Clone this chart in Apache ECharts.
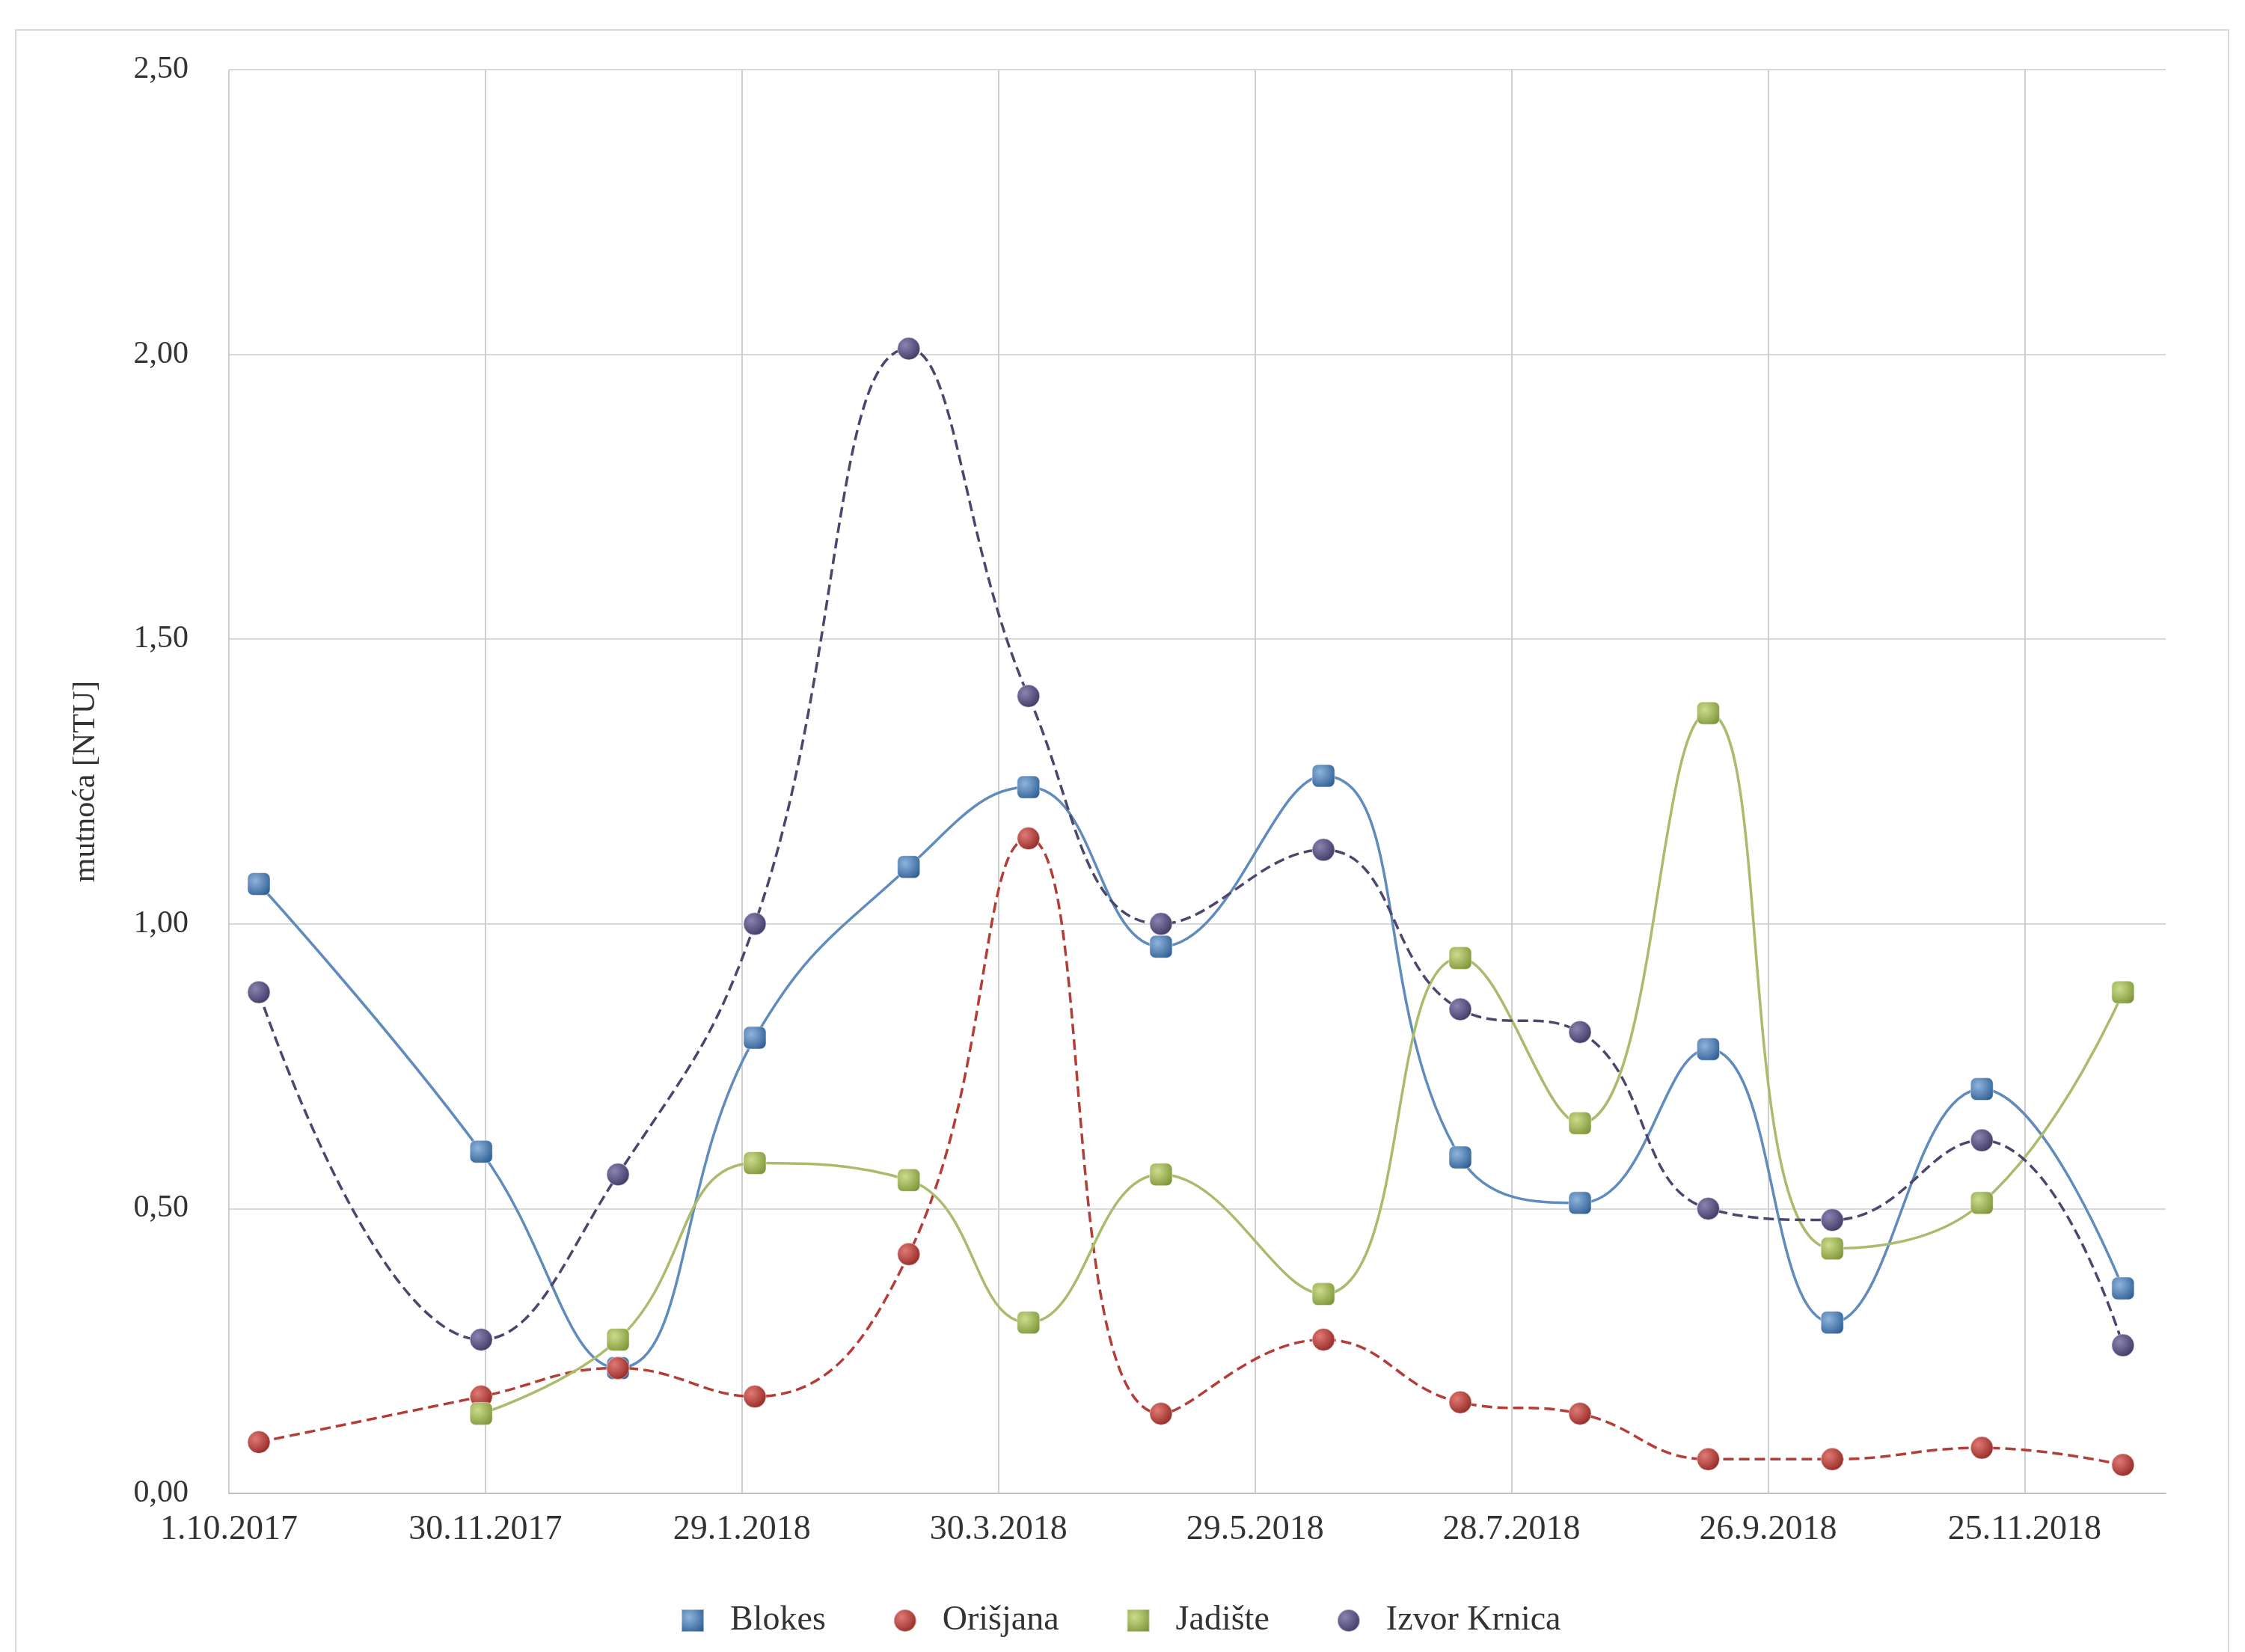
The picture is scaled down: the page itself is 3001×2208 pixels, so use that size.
<!DOCTYPE html>
<html>
<head>
<meta charset="utf-8">
<script src="https://cdn.jsdelivr.net/npm/echarts@6/dist/echarts.min.js"></script>
<style>
html,body{margin:0;padding:0;background:#fff;}
#chart{width:3001px;height:2208px;}
</style>
</head>
<body>
<div id="chart"></div>
<script>
// Sampling dates (d.m.yyyy)
const dates = ['8.10.2017','29.11.2017','31.12.2017','1.2.2018','9.3.2018','6.4.2018','7.5.2018','14.6.2018','16.7.2018','13.8.2018','12.9.2018','11.10.2018','15.11.2018','18.12.2018'];
const seriesNames = ['Blokes','Orišjana','Jadište','Izvor Krnica'];
const blokes   = [1.07, 0.60, 0.22, 0.80, 1.10, 1.24, 0.96, 1.26, 0.59, 0.51, 0.78, 0.30, 0.71, 0.36];
const orisjana = [0.09, 0.17, 0.22, 0.17, 0.42, 1.15, 0.14, 0.27, 0.16, 0.14, 0.06, 0.06, 0.08, 0.05];
const jadiste  = [null, 0.14, 0.27, 0.58, 0.55, 0.30, 0.56, 0.35, 0.94, 0.65, 1.37, 0.43, 0.51, 0.88];
const izvor    = [0.88, 0.27, 0.56, 1.00, 2.01, 1.40, 1.00, 1.13, 0.85, 0.81, 0.50, 0.48, 0.62, 0.26];
const yTicks = [0, 0.5, 1.0, 1.5, 2.0, 2.5];
const axisStart = '1.10.2017';
const axisEndDays = 453;
const tickDays = 60;

const DAY = 86400000;
function parseD(s){ const p = s.split('.').map(Number); return Date.UTC(p[2], p[1]-1, p[0]); }
const base = parseD(axisStart);
function toDays(s){ return Math.round((parseD(s) - base) / DAY); }
function fmtDay(d){ const t = new Date(base + d*DAY); return t.getUTCDate() + '.' + (t.getUTCMonth()+1) + '.' + t.getUTCFullYear(); }
function pairs(vals){ return dates.map((d,i)=>[toDays(d), vals[i]]); }

function sphere(light, dark){
  return {type:'radial', x:0.35, y:0.35, r:0.75, colorStops:[{offset:0,color:light},{offset:1,color:dark}]};
}
const FONT = '"Liberation Serif", "DejaVu Serif", serif';

const styles = [
  {line:'#5f8bbd', type:'solid',  mark:sphere('#8fb4dc','#2f5f95'), symbol:'roundRect'},
  {line:'#b53d38', type:'dashed', mark:sphere('#e07a74','#8f2420'), symbol:'circle'},
  {line:'#a9bb6c', type:'solid',  mark:sphere('#cbdc8c','#7f9538'), symbol:'roundRect'},
  {line:'#4b466d', type:'dashed', mark:sphere('#8a85b0','#3a3460'), symbol:'circle'}
];
const allData = [blokes, orisjana, jadiste, izvor];

const chart = echarts.init(document.getElementById('chart'));
chart.setOption({
  animation:false,
  backgroundColor:'#fff',
  graphic:[{type:'rect', shape:{x:21, y:40, width:2958, height:2200}, style:{fill:'none', stroke:'#d9d9d9', lineWidth:2}, silent:true}],
  grid:{left:306, right:106, top:93, bottom:212},
  legend:{
    bottom:14, left:905, itemWidth:30, itemHeight:30, itemGap:90,
    textStyle:{fontFamily:FONT, fontSize:46, color:'#333', padding:[0,0,0,30]},
    data:[
      {name:seriesNames[0], icon:'rect'},
      {name:seriesNames[1], icon:'circle'},
      {name:seriesNames[2], icon:'rect'},
      {name:seriesNames[3], icon:'circle'}
    ]
  },
  xAxis:{
    type:'value', min:0, max:axisEndDays, interval:tickDays,
    axisLine:{show:true, lineStyle:{color:'#bfbfbf', width:2}},
    axisTick:{show:false},
    axisLabel:{fontFamily:FONT, fontSize:46, color:'#333', margin:26, showMaxLabel:false,
      formatter:function(v){ return (v % tickDays === 0) ? fmtDay(v) : ''; }},
    splitLine:{show:true, showMinLine:true, showMaxLine:false, lineStyle:{color:'#cfcfcf', width:2}}
  },
  yAxis:{
    type:'value', min:yTicks[0], max:yTicks[yTicks.length-1], interval:0.5,
    name:'mutnoća [NTU]', nameLocation:'middle', nameGap:170, nameRotate:90,
    nameTextStyle:{fontFamily:FONT, fontSize:42, color:'#333'},
    axisLine:{show:false}, axisTick:{show:false},
    axisLabel:{fontFamily:FONT, fontSize:42, color:'#333', margin:54,
      formatter:function(v){ return v.toFixed(2).replace('.', ','); }},
    splitLine:{show:true, lineStyle:{color:'#d9d9d9', width:2}}
  },
  series: allData.map((vals,i)=>({
    name:seriesNames[i], type:'line', smooth:0.45,
    data:pairs(vals), connectNulls:false,
    symbol:styles[i].symbol, symbolSize:30,
    lineStyle:{color:styles[i].line, width:3.5, type:styles[i].type},
    itemStyle:{color:styles[i].mark, borderColor:'rgba(255,255,255,0.5)', borderWidth:1}
  }))
});
</script>
</body>
</html>
